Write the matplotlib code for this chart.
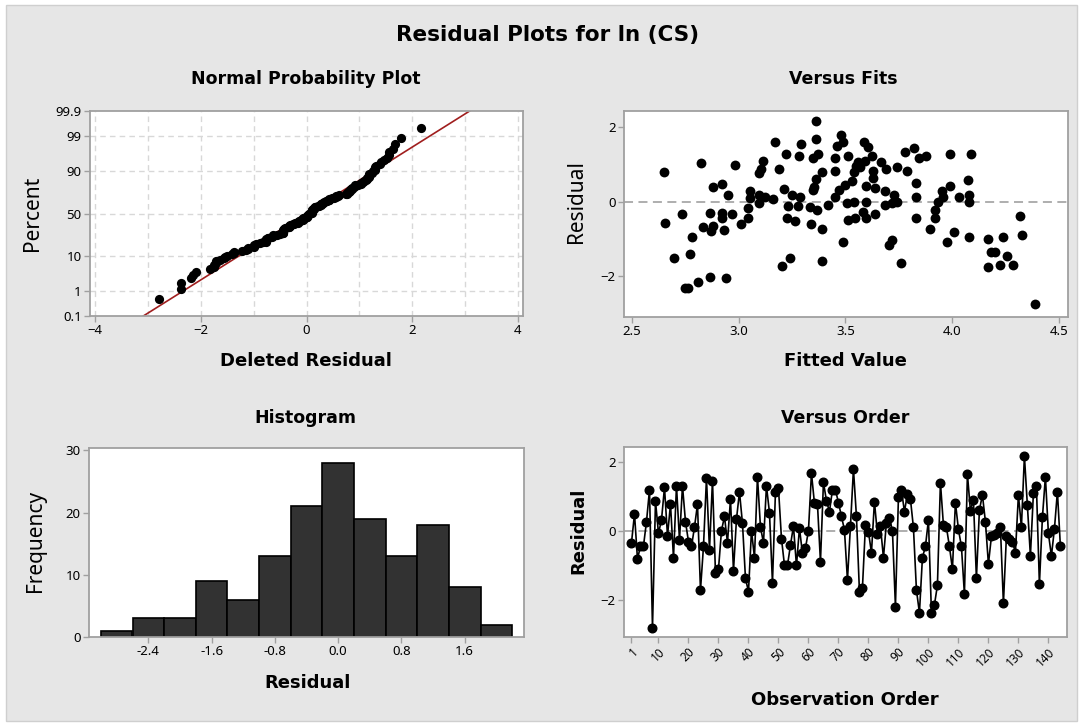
import numpy as np
import matplotlib
matplotlib.use('Agg')
import matplotlib.pyplot as plt
from matplotlib.patches import Rectangle
from statistics import NormalDist

# ---------------- data ----------------
order_resid = [-0.34, 0.49, -0.82, -0.43, -0.43, 0.27, 1.19, -2.80, 0.86, -0.07,
               0.32, 1.26, -0.14, 0.77, -0.77, 1.30, -0.26, 1.30, 0.27, -0.31,
               -0.45, 0.11, 0.77, -1.71, -0.45, 1.53, -0.55, 1.46, -1.23, -1.11,
               0.01, 0.42, -0.34, 0.92, -1.15, 0.34, 1.13, 0.22, -1.37, -1.76,
               0.01, -0.77, 1.57, 0.11, -0.34, 1.30, 0.53, -1.50, 1.14, 1.24,
               -0.22, -0.99, -1.00, -0.41, 0.14, -1.00, 0.08, -0.65, -0.50, 0.01,
               1.67, 0.80, 0.78, -0.89, 1.41, 0.87, 0.56, 1.19, 1.19, 0.82,
               0.42, 0.03, -1.42, 0.14, 1.79, 0.42, -1.76, -1.64, 0.16, -0.02,
               -0.63, 0.85, -0.10, 0.13, -0.77, 0.24, 0.37, 0.01, -2.19, 0.98,
               1.19, 0.56, 1.07, 0.92, 0.10, -1.71, -2.37, -0.77, -0.45, 0.32,
               -2.37, -2.14, -1.57, 1.40, 0.17, 0.11, -0.45, -1.10, 0.82, 0.05,
               -0.45, -1.83, 1.64, 0.59, 0.90, -1.37, 0.61, 1.04, 0.27, -0.96,
               -0.16, -0.12, -0.07, 0.11, -2.10, -0.16, -0.24, -0.31, -0.63, 1.04,
               0.11, 2.17, 0.75, -0.72, 1.09, 1.31, -1.55, 0.39, 1.57, -0.07,
               -0.72, 0.05, 1.14, -0.45]

fit_values = [2.649, 2.657, 2.699, 2.735, 2.748, 2.764, 2.772, 2.780, 2.808, 2.824,
              2.832, 2.868, 2.868, 2.870, 2.878, 2.881, 2.921, 2.921, 2.921, 2.933,
              2.941, 2.949, 2.967, 2.985, 3.010, 3.043, 3.043, 3.053, 3.053, 3.095,
              3.103, 3.116, 3.096, 3.096, 3.124, 3.161, 3.169, 3.189, 3.205, 3.213,
              3.221, 3.224, 3.229, 3.241, 3.250, 3.262, 3.278, 3.283, 3.286, 3.294,
              3.335, 3.338, 3.346, 3.346, 3.351, 3.362, 3.362, 3.362, 3.367, 3.372,
              3.388, 3.391, 3.391, 3.416, 3.451, 3.451, 3.451, 3.461, 3.468, 3.480,
              3.489, 3.489, 3.497, 3.505, 3.513, 3.513, 3.529, 3.538, 3.542, 3.546,
              3.549, 3.559, 3.570, 3.581, 3.586, 3.591, 3.594, 3.594, 3.594, 3.607,
              3.626, 3.630, 3.630, 3.638, 3.638, 3.667, 3.683, 3.683, 3.691, 3.704,
              3.716, 3.716, 3.727, 3.743, 3.743, 3.761, 3.780, 3.788, 3.821, 3.832,
              3.832, 3.832, 3.842, 3.878, 3.894, 3.918, 3.918, 3.931, 3.951, 3.955,
              3.975, 3.991, 3.991, 4.007, 4.032, 4.072, 4.080, 4.080, 4.080, 4.088,
              4.169, 4.169, 4.182, 4.202, 4.223, 4.239, 4.258, 4.283, 4.318, 4.327,
              4.388]
fit_resid = [0.78, -0.59, -1.51, -0.34, -2.33, -2.33, -1.41, -0.94, -2.17, 1.03,
             -0.69, -0.30, -2.02, -0.78, 0.38, -0.67, 0.48, -0.30, -0.45, -0.76,
             -2.06, 0.18, -0.34, 0.98, -0.60, -0.45, -0.18, 0.27, 0.09, 0.76,
             0.87, 1.10, -0.04, 0.18, 0.13, 0.06, 1.59, 0.87, -1.72, 0.33,
             1.28, -0.45, -0.13, -1.51, 0.18, -0.51, -0.13, 1.23, 0.12, 1.54,
             -0.16, -0.60, 1.17, 0.30, 0.40, 2.15, 1.69, 0.60, -0.24, 1.28,
             -0.74, -1.61, 0.78, -0.09, 0.83, 1.17, 0.12, 1.48, 0.31, 1.79,
             1.61, -1.10, 0.45, -0.03, 1.23, -0.49, 0.54, 0.78, 0.00, -0.45,
             0.96, 1.05, 0.92, -0.27, 1.61, 1.10, 0.42, 0.00, -0.45, 1.46,
             1.23, 0.81, 0.63, 0.36, -0.33, 1.05, 0.27, -0.09, 0.87, -1.17,
             -1.03, -0.03, 0.18, 0.94, 0.00, -1.66, 1.32, 0.83, 1.43, 0.51,
             0.12, -0.45, 1.17, 1.23, -0.74, -0.22, -0.45, 0.00, 0.27, 0.12,
             -1.10, 1.28, 0.42, -0.81, 0.12, 0.57, 0.18, 0.00, -0.94, 1.28,
             -1.00, -1.77, -1.36, -1.36, -1.70, -0.94, -1.45, -1.70, -0.39, -0.90,
             -2.74]

hist_centers = [-2.8, -2.4, -2.0, -1.6, -1.2, -0.8, -0.4, 0.0, 0.4, 0.8, 1.2, 1.6, 2.0]
hist_counts = [1, 3, 3, 9, 6, 13, 21, 28, 19, 13, 18, 8, 2]
hist_ticks = [-2.4, -1.6, -0.8, 0.0, 0.8, 1.6]

pct_ticks = [0.1, 1, 10, 50, 90, 99, 99.9]
pct_labels = ['0.1', '1', '10', '50', '90', '99', '99.9']
order_ticks = [1, 10, 20, 30, 40, 50, 60, 70, 80, 90, 100, 110, 120, 130, 140]

# ---------------- figure ----------------
W, H = 1083, 726
fig = plt.figure(figsize=(W / 100, H / 100), dpi=100, facecolor='white')
fig.patches.append(Rectangle((6 / W, 1 - 721 / H), (1077 - 6) / W, (721 - 5) / H,
                             transform=fig.transFigure, facecolor='#E6E6E6',
                             edgecolor='#CFCFCF', lw=1.0, zorder=-10))

BOLDFONT = 'DejaVu Sans'
TICKFONT = 'Noto Sans'
SPINE = '#A0A0A0'
TICKSIZE = 9.5


def set_tick_font(ax, size=TICKSIZE):
    for lab in ax.get_xticklabels() + ax.get_yticklabels():
        lab.set_family(TICKFONT)
        lab.set_fontsize(size)


def add_ax(l, t, r, b):
    ax = fig.add_axes([l / W, 1 - b / H, (r - l) / W, (b - t) / H])
    ax.set_facecolor('white')
    ax.set_zorder(1)
    for s in ax.spines.values():
        s.set_color(SPINE)
        s.set_linewidth(1.3)
    ax.tick_params(colors=SPINE, labelcolor='black', length=4, width=1,
                   direction='out', pad=2)
    return ax


def ftext(x, y, s, size, bold=False, rot=0, family=BOLDFONT):
    fig.text(x / W, 1 - y / H, s, ha='center', va='center', fontsize=size,
             fontweight='bold' if bold else 'normal', rotation=rot, family=family)


ND = NormalDist()

# ---- Normal probability plot ----
ax1 = add_ax(90, 111, 523, 316)
srt = np.sort(np.array(order_resid))
n = len(srt)
ranks = (np.arange(1, n + 1) - 0.3) / (n + 0.4)
zvals = np.array([ND.inv_cdf(p) for p in ranks])
zlo, zhi = ND.inv_cdf(0.001), ND.inv_cdf(0.999)
ax1.set_xlim(-4.1, 4.1)
ax1.set_ylim(zlo, zhi)
for xv in range(-4, 5):
    ax1.axvline(xv, color='#D8D8D8', ls=(0, (4, 3)), lw=1.0, zorder=1)
tick_z = [ND.inv_cdf(p / 100.0) for p in pct_ticks]
for zz in tick_z[1:-1]:
    ax1.axhline(zz, color='#D8D8D8', ls=(0, (4, 3)), lw=1.0, zorder=1)
lx = np.array([zlo, zhi])
ax1.plot(lx, lx, color='#A01E1E', lw=1.2, zorder=2)
ax1.scatter(srt, zvals, s=44, color='black', zorder=3, linewidths=0)
ax1.set_yticks(tick_z)
ax1.set_yticklabels(pct_labels)
ax1.set_xticks([-4, -2, 0, 2, 4])
set_tick_font(ax1)

# ---- Versus fits ----
ax2 = add_ax(624, 111, 1068, 317)
ax2.set_xlim(2.463, 4.542)
ax2.set_ylim(-3.10, 2.43)
ax2.axhline(0, color='#A8A8A8', ls=(0, (5, 3)), lw=1.3, zorder=1)
ax2.scatter(fit_values, fit_resid, s=50, color='black', zorder=3, linewidths=0)
ax2.set_xticks([2.5, 3.0, 3.5, 4.0, 4.5])
ax2.set_xticklabels(['2.5', '3.0', '3.5', '4.0', '4.5'])
ax2.set_yticks([-2, 0, 2])
set_tick_font(ax2)

# ---- Histogram ----
ax3 = add_ax(89, 448, 524, 637)
ax3.bar(hist_centers, hist_counts, width=0.4, color='#323232', edgecolor='black',
        linewidth=1.2, zorder=2)
ax3.set_xlim(-3.15, 2.35)
ax3.set_ylim(0, 30.4)
ax3.set_xticks(hist_ticks)
ax3.set_xticklabels(['%.1f' % t for t in hist_ticks])
ax3.set_yticks([0, 10, 20, 30])
set_tick_font(ax3)

# ---- Versus order ----
ax4 = add_ax(624, 447, 1067, 637)
obs = np.arange(1, len(order_resid) + 1)
ax4.set_xlim(-1.5, 146.2)
ax4.set_ylim(-3.07, 2.43)
ax4.axhline(0, color='#A8A8A8', ls=(0, (5, 3)), lw=1.3, zorder=1)
ax4.plot(obs, order_resid, color='black', lw=1.2, marker='o', ms=6.2,
         mfc='black', mec='black', zorder=3)
ax4.set_xticks(order_ticks)
ax4.set_xticklabels([str(t) for t in order_ticks], rotation=45, ha='right',
                    rotation_mode='anchor')
ax4.set_yticks([-2, 0, 2])
set_tick_font(ax4)
for lab in ax4.get_xticklabels():
    lab.set_fontsize(8.5)

# ---- texts ----
ftext(548, 35, 'Residual Plots for ln (CS)', 15.5, bold=True)
ftext(306, 79, 'Normal Probability Plot', 12.5, bold=True)
ftext(843, 79, 'Versus Fits', 12.5, bold=True)
ftext(305, 418, 'Histogram', 12.5, bold=True)
ftext(845, 418, 'Versus Order', 12.5, bold=True)

ftext(306, 361, 'Deleted Residual', 13, bold=True)
ftext(845, 361, 'Fitted Value', 13, bold=True)
ftext(308, 683, 'Residual', 13, bold=True)
ftext(845, 700, 'Observation Order', 13, bold=True)

ftext(33, 213, 'Percent', 15, rot=90, family=TICKFONT)
ftext(576, 202, 'Residual', 15, rot=90, family=TICKFONT)
ftext(36, 541, 'Frequency', 15, rot=90, family=TICKFONT)
ftext(578, 531, 'Residual', 13, bold=True, rot=90)

fig.savefig('out.png', dpi=100, facecolor=fig.get_facecolor())
